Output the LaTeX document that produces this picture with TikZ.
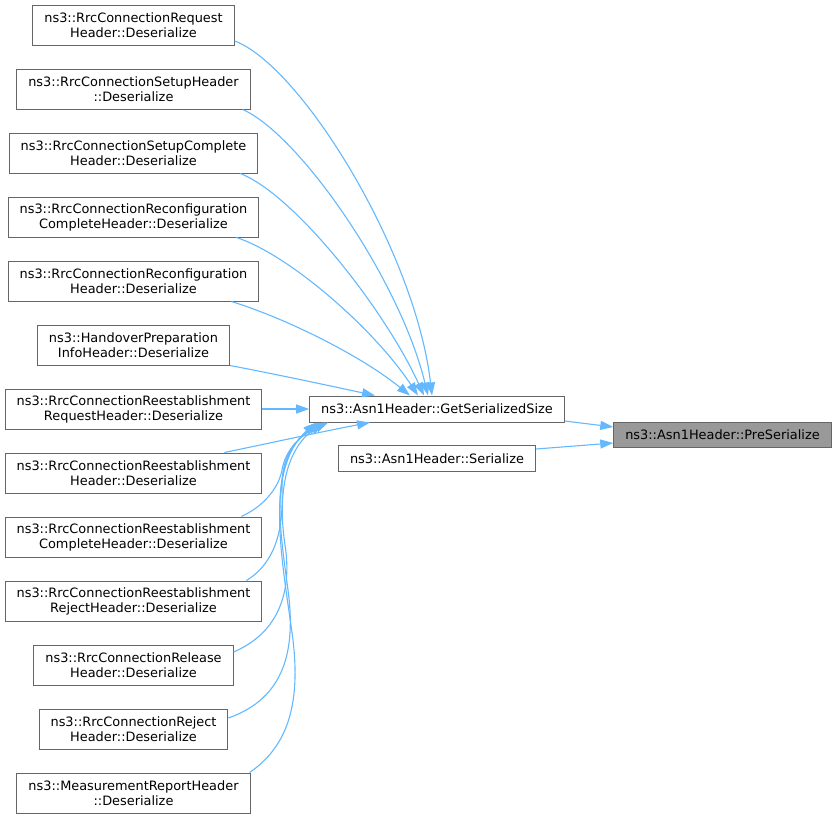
\documentclass[tikz,border=0pt]{standalone}
\usepackage{fontspec}
\setmainfont{DejaVu Sans}
\usepackage{xcolor}
\usetikzlibrary{arrows.meta}
\definecolor{edgeblue}{HTML}{63B8FF}
\definecolor{boxgrey}{HTML}{666666}
\definecolor{hlgrey}{HTML}{999999}

\begin{document}
\begin{tikzpicture}[x=1pt,y=-1pt,
    fn/.style={draw=boxgrey,fill=white,line width=1pt,align=center,
      inner xsep=11.5pt,inner ysep=0pt,minimum height=40pt,
      font=\fontsize{12.9}{15}\selectfont},
    fnone/.style={fn,minimum height=26pt},
    call/.style={draw=edgeblue,line width=1.1pt,
      -{Triangle[length=13pt,width=9pt]}}]
            \useasboundingbox (0,0) rectangle (837,819);
            % Callers of GetSerializedSize
            \node[fn] (r1) at (133.5,25) {ns3::RrcConnectionRequest\\Header::Deserialize};
            \node[fn] (r2) at (133.5,89) {ns3::RrcConnectionSetupHeader\\::Deserialize};
            \node[fn] (r3) at (133.5,153) {ns3::RrcConnectionSetupComplete\\Header::Deserialize};
            \node[fn] (r4) at (133.5,217) {ns3::RrcConnectionReconfiguration\\CompleteHeader::Deserialize};
            \node[fn] (r5) at (133.5,281) {ns3::RrcConnectionReconfiguration\\Header::Deserialize};
            \node[fn] (r6) at (133.5,345) {ns3::HandoverPreparation\\InfoHeader::Deserialize};
            \node[fn] (r7) at (133.5,409) {ns3::RrcConnectionReestablishment\\RequestHeader::Deserialize};
            \node[fn] (r8) at (133.5,473) {ns3::RrcConnectionReestablishment\\Header::Deserialize};
            \node[fn] (r9) at (133.5,537) {ns3::RrcConnectionReestablishment\\CompleteHeader::Deserialize};
            \node[fn] (r10) at (133.5,601) {ns3::RrcConnectionReestablishment\\RejectHeader::Deserialize};
            \node[fn] (r11) at (133.5,665) {ns3::RrcConnectionRelease\\Header::Deserialize};
            \node[fn] (r12) at (133.5,729) {ns3::RrcConnectionReject\\Header::Deserialize};
            \node[fn] (r13) at (133.5,793) {ns3::MeasurementReportHeader\\::Deserialize};
            % Middle column
            \node[fnone] (gss) at (437,409) {ns3::Asn1Header::GetSerializedSize};
            \node[fnone] (ser) at (437,458.5) {ns3::Asn1Header::Serialize};
            % Highlighted function
            \node[fnone,fill=hlgrey,minimum height=25pt] (pre) at (722.5,434.5) {ns3::Asn1Header::PreSerialize};
            % Edges into GetSerializedSize from above
            \draw[call] ([yshift=-16pt]r1.east) .. controls (300,65) and (415,250) .. ([xshift=-5pt]gss.north);
            \draw[call] ([xshift=-8pt]r2.south east) .. controls (300,135) and (400,280) .. ([xshift=-9pt]gss.north);
            \draw[call] ([xshift=-18pt]r3.south east) .. controls (295,195) and (385,310) .. ([xshift=-13pt]gss.north);
            \draw[call] ([xshift=-23pt]r4.south east) .. controls (290,255) and (375,330) .. ([xshift=-19pt]gss.north);
            \draw[call] ([xshift=-28pt]r5.south east) .. controls (285,318) and (360,355) .. ([xshift=-27pt]gss.north);
            \draw[call] (r6.south east) .. controls (280,375) and (340,388) .. ([xshift=-62pt]gss.north);
            \draw[call] (r7.east) -- (gss.west);
            \draw[call] ([xshift=-38pt]r8.north east) .. controls (270,443) and (330,430) .. ([xshift=-67pt]gss.south);
            % Edges into GetSerializedSize from below
            \draw[call] ([xshift=-21pt]r9.north east) .. controls (262,507) and (278,490) .. (282,470)
              .. controls (285,452) and (298,436) .. ([xshift=19pt]gss.south west);
            \draw[call] ([xshift=-16pt]r10.north east) .. controls (280,560) and (283,520) .. (282,490)
              .. controls (281,460) and (292,440) .. ([xshift=16pt]gss.south west);
            \draw[call] ([yshift=13pt]r11.east) .. controls (280,632) and (292,590) .. (285,545)
              .. controls (279,505) and (281,455) .. ([xshift=13pt]gss.south west);
            \draw[call] ([yshift=11pt]r12.east) .. controls (285,698) and (296,650) .. (288,590)
              .. controls (280,530) and (268,460) .. ([xshift=10pt]gss.south west);
            \draw[call] ([xshift=-1pt]r13.north east) .. controls (290,745) and (300,700) .. (293,640)
              .. controls (284,570) and (262,470) .. ([xshift=7pt]gss.south west);
            % Edges into PreSerialize
            \draw[call] ([yshift=-12pt]gss.east) -- ([yshift=7.5pt]pre.west);
            \draw[call] ([yshift=9.5pt]ser.east) -- ([yshift=-8.5pt]pre.west);
        \end{tikzpicture}
\end{document}
